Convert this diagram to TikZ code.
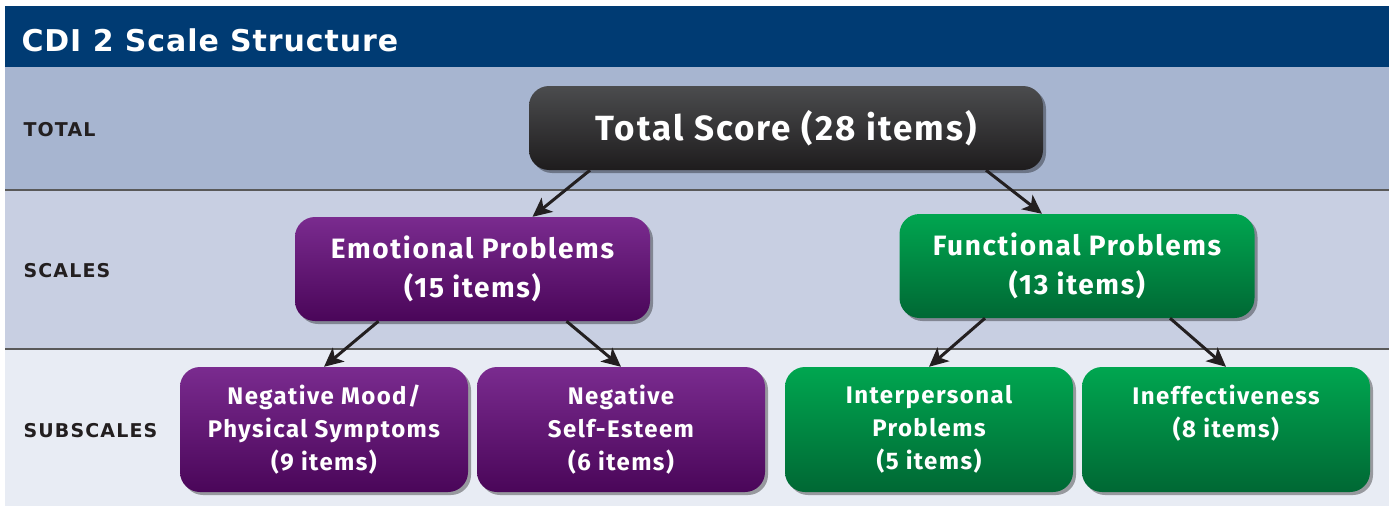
\documentclass[tikz,border=0pt]{standalone}
\usepackage{fontspec}
\setmainfont{Fira Sans}
\newfontfamily\boxfont[LetterSpace=6]{Fira Sans}
\newfontfamily\titlefont[LetterSpace=3]{DejaVu Sans}
\newfontfamily\rowfont[LetterSpace=6]{DejaVu Sans}
\usetikzlibrary{arrows.meta,shadows}

\definecolor{titleblue}{HTML}{003B73}
\definecolor{bandtotal}{HTML}{A7B5D0}
\definecolor{bandscale}{HTML}{C8CFE2}
\definecolor{bandsub}{HTML}{E8ECF4}
\definecolor{inkdark}{HTML}{231F20}
\definecolor{greytop}{HTML}{4B4C4E}
\definecolor{greybot}{HTML}{1E1C1D}
\definecolor{purptop}{HTML}{7A2B8F}
\definecolor{purpbot}{HTML}{4A0659}
\definecolor{greentop}{HTML}{00A650}
\definecolor{greenbot}{HTML}{006834}

\tikzset{
  box/.style={rounded corners=20pt, text=white, align=center,
    font=\boxfont\bfseries,
    drop shadow={shadow xshift=3pt, shadow yshift=-3pt, opacity=0.35, fill=black}},
  totalbox/.style={box, top color=greytop, bottom color=greybot,
    minimum width=514pt, minimum height=84pt, font=\boxfont\bfseries\fontsize{35}{39}\selectfont},
  purplebox/.style={box, top color=purptop, bottom color=purpbot},
  greenbox/.style={box, top color=greentop, bottom color=greenbot},
  scalebox/.style={minimum width=355pt, minimum height=104pt,
    font=\boxfont\bfseries\fontsize{28}{39}\selectfont},
  subbox/.style={minimum width=288pt, minimum height=125pt,
    font=\boxfont\bfseries\fontsize{24}{33}\selectfont},
  rowlabel/.style={anchor=west, text=inkdark, font=\rowfont\bfseries\fontsize{19}{21}\selectfont},
  link/.style={line width=3pt, draw=inkdark,
    -{Stealth[length=19pt, width=18pt, inset=5pt]}}
}

\begin{document}
\begin{tikzpicture}[x=1pt, y=-1pt]
  \useasboundingbox (0,0) rectangle (1389,506);

  % bands
  \fill[titleblue] (5,6) rectangle (1389,67);
  \fill[bandtotal] (5,67) rectangle (1389,190);
  \fill[bandscale] (5,190) rectangle (1389,349);
  \fill[bandsub] (5,349) rectangle (1389,506);
  \draw[line width=1.5pt, draw=black!65] (5,190) -- (1389,190);
  \draw[line width=1.5pt, draw=black!65] (5,349) -- (1389,349);

  \node[anchor=west, text=white, font=\titlefont\bfseries\fontsize{30}{32}\selectfont]
    (title) at (18,40) {CDI 2 Scale Structure};

  \node[rowlabel] (rowtotal) at (20,130) {TOTAL};
  \node[rowlabel] (rowscales) at (20,271) {SCALES};
  \node[rowlabel] (rowsub) at (20,431) {SUBSCALES};

  % boxes
  \node[totalbox] (total) at (786,128) {Total Score (28 items)};

  \node[purplebox, scalebox] (emo) at (472.5,269) {Emotional Problems\\(15 items)};
  \node[greenbox, scalebox] (fun) at (1077,266) {Functional Problems\\(13 items)};

  \node[purplebox, subbox] (mood) at (324,429.5) {Negative Mood/\\Physical Symptoms\\(9 items)};
  \node[purplebox, subbox] (esteem) at (621,429.5) {Negative\\Self-Esteem\\(6 items)};
  \node[greenbox, subbox] (inter) at (929,429.5) {Interpersonal\\Problems\\(5 items)};
  \node[greenbox, subbox] (ineff) at (1226,429.5) {Ineffectiveness\\(8 items)\\\phantom{(8 items)}};

  % arrows
  \draw[link] ([xshift=-196pt]total.south) -- ([xshift=60pt]emo.north);
  \draw[link] ([xshift=200pt]total.south) -- ([xshift=-35pt]fun.north);
  \draw[link] ([xshift=-94pt]emo.south) -- (mood.north);
  \draw[link] ([xshift=94pt]emo.south) -- (esteem.north);
  \draw[link] ([xshift=-92pt]fun.south) -- (inter.north);
  \draw[link] ([xshift=93pt]fun.south) -- (ineff.north);
\end{tikzpicture}
\end{document}
